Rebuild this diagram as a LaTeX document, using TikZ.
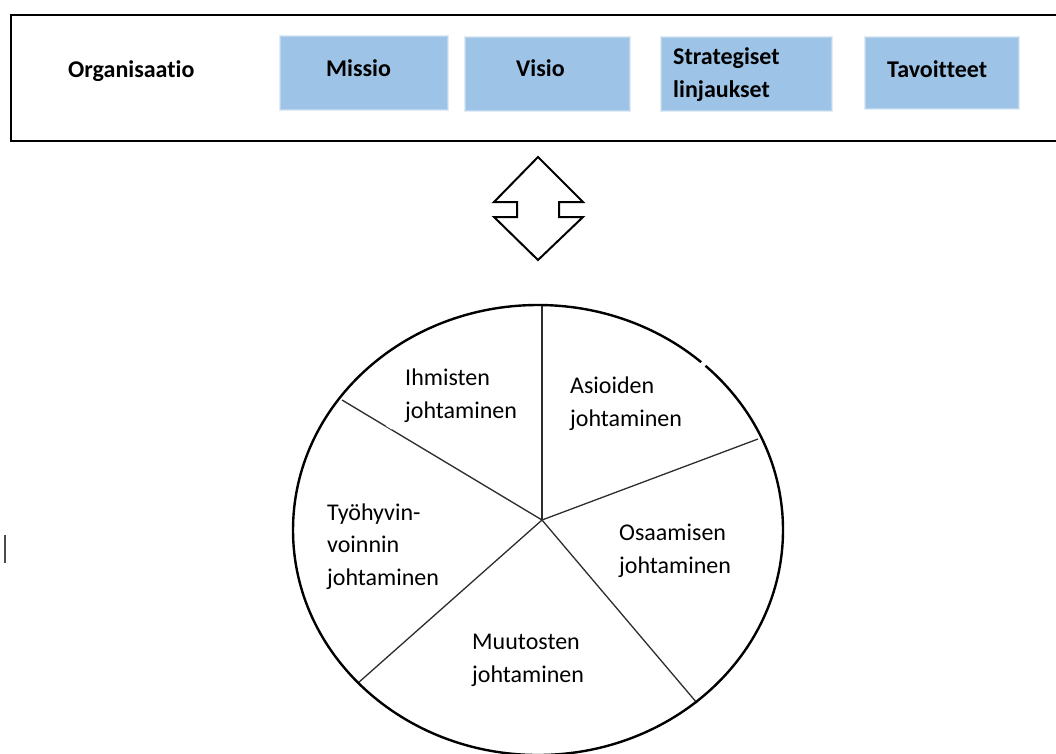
\documentclass[tikz,border=0pt]{standalone}
\usepackage{fontspec}
\setmainfont{Carlito}[Ligatures=NoCommon]
\definecolor{boxblue}{RGB}{157,195,230}
\definecolor{spokegray}{RGB}{45,45,45}
\begin{document}
\begin{tikzpicture}[x=1pt,y=-1pt,
  bluebox/.style={fill=boxblue, draw=boxblue, draw opacity=0.55, line width=1.2pt,
    preaction={draw=boxblue, draw opacity=0.3, line width=3.5pt},
    inner sep=0pt, anchor=center},
  headtxt/.style={font=\fontsize{24}{32.5}\selectfont\bfseries, anchor=base west, inner sep=0pt, align=left},
  pietxt/.style={font=\fontsize{24}{32.5}\selectfont, anchor=base west, inner sep=0pt, align=left},
  spoke/.style={draw=spokegray, line width=1.3pt}]
\clip (0,0) rectangle (1056,753);
\fill[white] (0,0) rectangle (1056,753);

% top frame with the organisation's guiding elements
\node[draw, line width=2.4pt, anchor=north west, minimum width=1070pt, minimum height=126pt, inner sep=0pt] (frame) at (10,14) {};
\node[headtxt] (org) at (68,77) {Organisaatio};

\node[bluebox, minimum width=166pt, minimum height=72pt] (missio) at (364,73) {};
\node[bluebox, minimum width=163pt, minimum height=72pt] (visio) at (547.5,74) {};
\node[bluebox, minimum width=169pt, minimum height=72pt] (strat) at (746.5,74) {};
\node[bluebox, minimum width=152pt, minimum height=70pt] (tavo) at (942,73) {};

% multi-line labels are anchored at the baseline of their last line
\node[headtxt] (missiotxt) at (326,76) {Missio};
\node[headtxt] (visiotxt) at (516,76) {Visio};
\node[headtxt] (strattxt) at (673,97) {Strategiset\\linjaukset};
\node[headtxt] (tavotxt) at (887,77) {Tavoitteet};

% two-way block arrow
\draw[line width=2pt, fill=white, line join=miter]
  (538,157) -- (583,202) -- (559,202) -- (559,217) -- (583,217) -- (538,260)
  -- (494,217) -- (517,217) -- (517,202) -- (494,202) -- cycle;

% management wheel
\coordinate (ec) at (538,530);
\coordinate (hub) at (542,520);
\coordinate (pt) at (542,305);
\coordinate (pur) at (758,439);
\coordinate (plr) at (697,703);
\coordinate (pll) at (358,683);
\coordinate (pul) at (342,400);

\draw[spoke] (hub) -- (pt);
\draw[spoke] (hub) -- (pur);
\draw[spoke] (hub) -- (plr);
\draw[spoke] (hub) -- (pll);
\draw[spoke] (hub) -- (pul);
\draw[line width=2.4pt] (ec) ellipse [x radius=245pt, y radius=225pt];

% small breaks in the outlines
\draw[white, line width=3pt] (386.5,424.5) -- (392.5,428.2);
\draw[white, line width=4pt] (701.5,362) -- (705.5,365.5);

\node[pietxt] (ihm) at (405,418) {Ihmisten\\johtaminen};
\node[pietxt] (asi) at (570,426) {Asioiden\\johtaminen};
\node[pietxt] (osa) at (619,573) {Osaamisen\\johtaminen};
\node[pietxt] (tyo) at (327,585) {Työhyvin-\\voinnin\\johtaminen};
\node[pietxt] (muu) at (472,682) {Muutosten\\johtaminen};

% text cursor mark at the left margin
\draw[draw=black!70, line width=1.6pt] (5,535) -- (5,563);
\end{tikzpicture}
\end{document}
